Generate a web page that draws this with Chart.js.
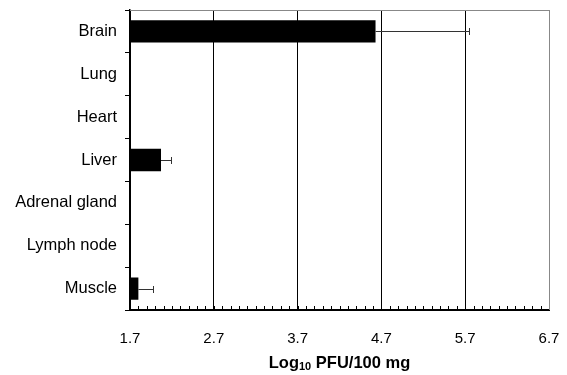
<!DOCTYPE html>
<html>
<head>
<meta charset="utf-8">
<script src="https://cdn.jsdelivr.net/npm/chart.js@4.4.0/dist/chart.umd.min.js"></script>
<style>
  html, body { margin: 0; padding: 0; background: #fff; }
</style>
</head>
<body>
<canvas id="myChart" width="567" height="375"></canvas>
<script>
// data
var tissues = ['Brain', 'Lung', 'Heart', 'Liver', 'Adrenal gland', 'Lymph node', 'Muscle'];
var meanPfu = [4.63, null, null, 2.07, null, null, 1.80];
var errHigh = [5.74, null, null, 2.19, null, null, 1.98];
var xTicks = [1.7, 2.7, 3.7, 4.7, 5.7, 6.7];

// error bars + minor ticks + frame + axis title
var extras = {
    id: 'extras',
    afterDatasetsDraw: function(chart) {
        var ctx = chart.ctx;
        var xs = chart.scales.x;
        var ys = chart.scales.y;
        var area = chart.chartArea;
        ctx.save();

        // error bars (upper only)
        ctx.strokeStyle = '#333';
        ctx.lineWidth = 1;
        for (var i = 0; i < tissues.length; i++) {
            if (meanPfu[i] === null) continue;
            var y = Math.round(ys.getPixelForValue(i));
            var x0 = xs.getPixelForValue(meanPfu[i]);
            var x1 = Math.round(xs.getPixelForValue(errHigh[i]));
            ctx.beginPath();
            ctx.moveTo(x0, y + 0.5);
            ctx.lineTo(x1, y + 0.5);
            ctx.moveTo(x1 + 0.5, y - 3);
            ctx.lineTo(x1 + 0.5, y + 4);
            ctx.stroke();
        }

        // frame top and right (grey)
        ctx.strokeStyle = '#888';
        ctx.beginPath();
        ctx.moveTo(area.left, area.top + 0.5);
        ctx.lineTo(area.right, area.top + 0.5);
        ctx.moveTo(area.right + 0.5, area.top);
        ctx.lineTo(area.right + 0.5, area.bottom);
        ctx.stroke();

        // minor ticks every 0.1 on the bottom axis
        ctx.strokeStyle = '#000';
        for (var k = 1; k < 50; k++) {
            var px = Math.round(xs.getPixelForValue(xTicks[0] + k * 0.1)) + 0.5;
            ctx.beginPath();
            ctx.moveTo(px, area.bottom);
            ctx.lineTo(px, area.bottom - 4);
            ctx.stroke();
        }

        // axis title with subscript
        var cx = (area.left + area.right) / 2;
        var ty = 363;
        ctx.fillStyle = '#000';
        ctx.textBaseline = 'middle';
        ctx.textAlign = 'left';
        var big = 'bold 16.5px "Liberation Sans", Arial, sans-serif';
        var small = 'bold 11px "Liberation Sans", Arial, sans-serif';
        ctx.font = big;
        var w1 = ctx.measureText('Log').width;
        var w3 = ctx.measureText(' PFU/100 mg').width;
        ctx.font = small;
        var w2 = ctx.measureText('10').width;
        var sx = cx - (w1 + w2 + w3) / 2;
        ctx.font = big;
        ctx.fillText('Log', sx, ty);
        ctx.font = small;
        ctx.fillText('10', sx + w1, ty + 4);
        ctx.font = big;
        ctx.fillText(' PFU/100 mg', sx + w1 + w2, ty);

        ctx.restore();
    }
};

const data = {
    labels: tissues,
    datasets: [{
        data: meanPfu,
        backgroundColor: '#000',
        borderWidth: 0,
        categoryPercentage: 1,
        barPercentage: 0.52
    }]
};

const config = {
    type: 'bar',
    data: data,
    options: {
        indexAxis: 'y',
        responsive: false,
        animation: false,
        layout: { padding: { top: 10, right: 18, bottom: 0, left: 0 } },
        plugins: {
            legend: { display: false },
            tooltip: { enabled: false }
        },
        scales: {
            x: {
                min: 1.7,
                max: 6.7,
                afterBuildTicks: function(scale) {
                    scale.ticks = xTicks.map(function(v) { return { value: v }; });
                },
                afterFit: function(scale) {
                    scale.height = 65;
                    scale.paddingLeft = 0;
                    scale.paddingRight = 0;
                },
                ticks: {
                    color: '#000',
                    padding: 20,
                    autoSkip: false,
                    maxRotation: 0,
                    font: { family: '"Liberation Sans", Arial, sans-serif', size: 15 },
                    callback: function(v) { return Number(v).toFixed(1); }
                },
                grid: {
                    drawTicks: false,
                    color: function(c) { return c.tick && c.tick.value === 6.7 ? '#888' : '#000'; },
                    lineWidth: 1
                },
                border: { color: '#000', width: 2 }
            },
            y: {
                afterFit: function(scale) {
                    scale.width = 130;
                    scale.paddingTop = 0;
                    scale.paddingBottom = 0;
                },
                ticks: {
                    color: '#000',
                    padding: 8,
                    autoSkip: false,
                    font: { family: '"Liberation Sans", Arial, sans-serif', size: 16.5 }
                },
                grid: {
                    drawOnChartArea: false,
                    drawTicks: true,
                    tickLength: 5,
                    color: '#000'
                },
                border: { color: '#000', width: 1.5 }
            }
        }
    },
    plugins: [extras]
};

const myChart = new Chart(document.getElementById('myChart').getContext('2d'), config);
</script>
</body>
</html>
